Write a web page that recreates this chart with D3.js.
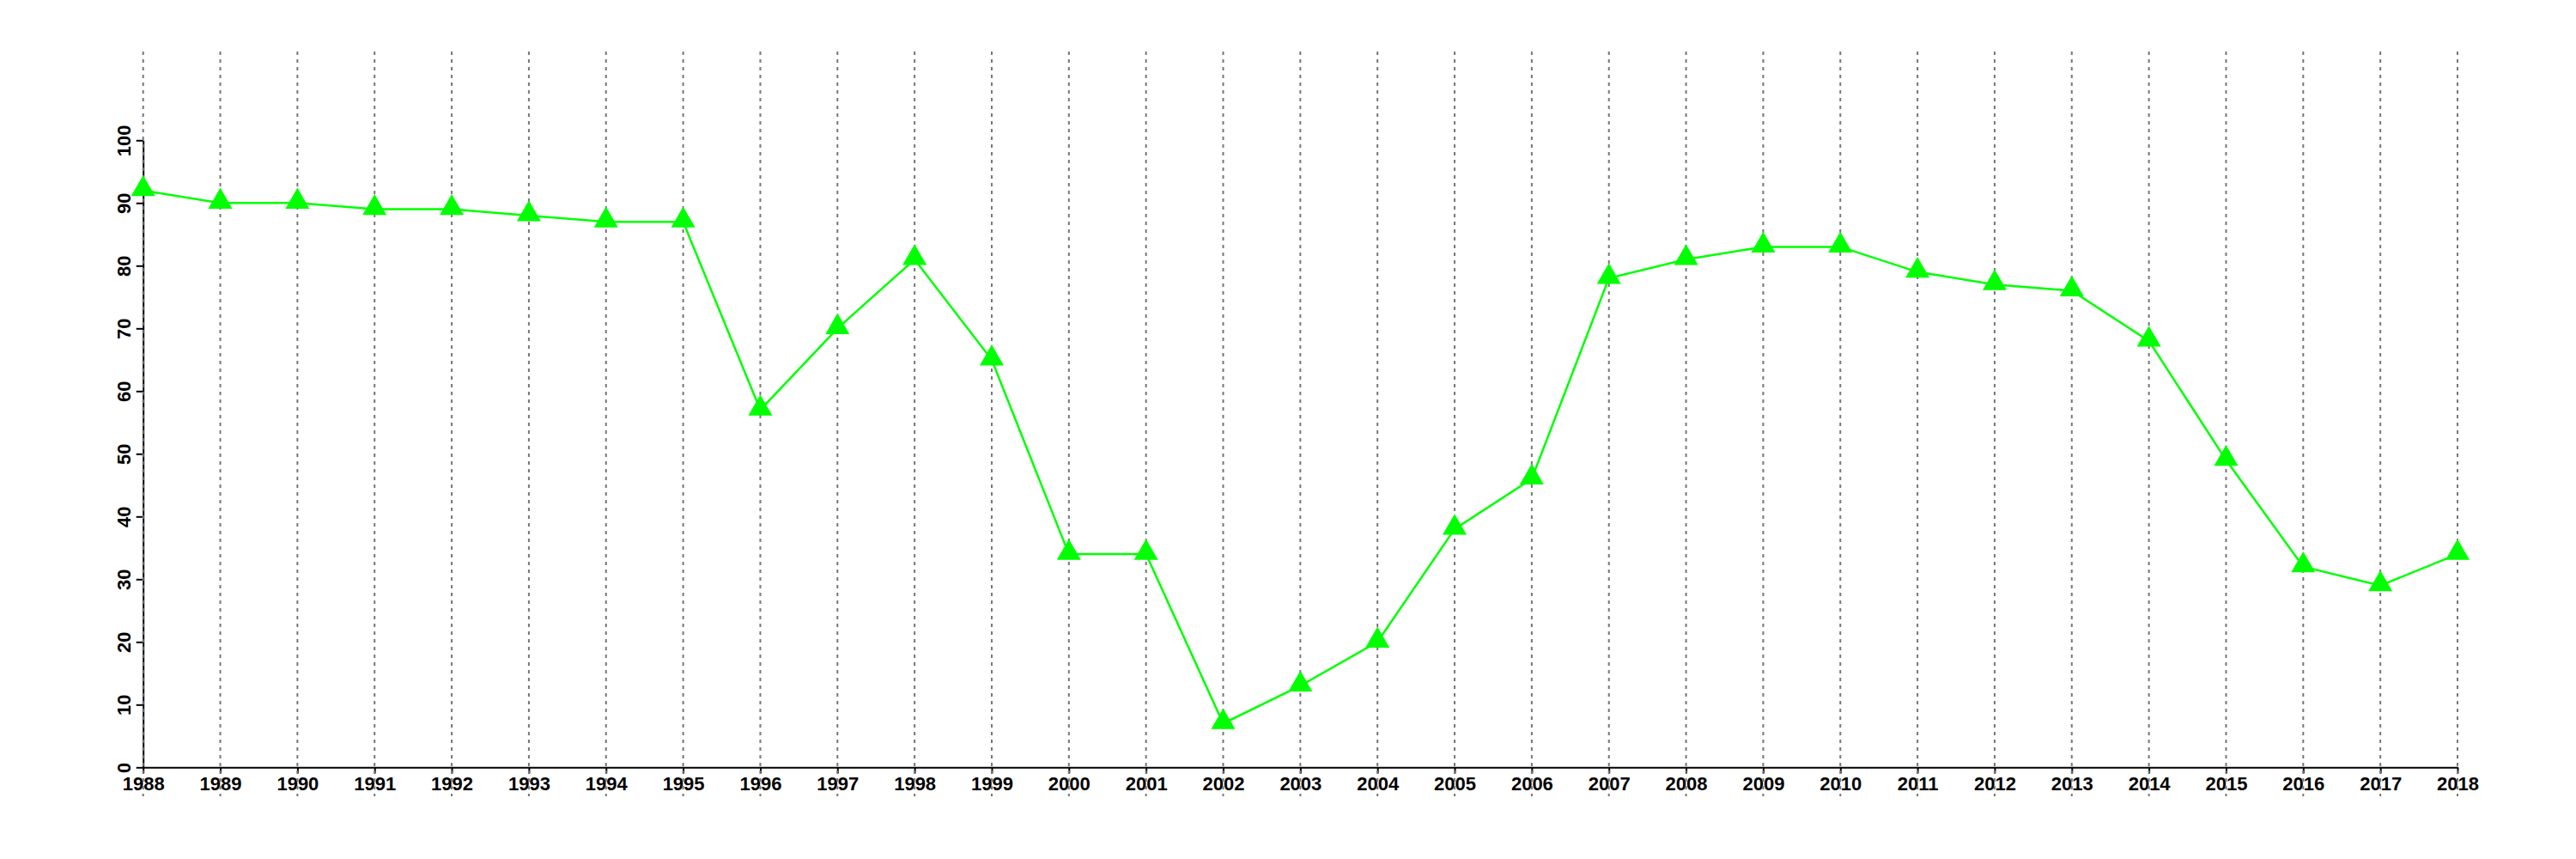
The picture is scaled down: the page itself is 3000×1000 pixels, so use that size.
<!DOCTYPE html>
<html>
<head>
<meta charset="utf-8">
<script src="https://cdn.jsdelivr.net/npm/d3@7"></script>
<style>
  html, body { margin: 0; padding: 0; background: #fff; }
  svg { display: block; }
</style>
</head>
<body>
<svg id="chart" width="3000" height="1000"></svg>
<script>
const years = [1988,1989,1990,1991,1992,1993,1994,1995,1996,1997,1998,1999,2000,2001,2002,2003,2004,2005,2006,2007,2008,2009,2010,2011,2012,2013,2014,2015,2016,2017,2018];
const values = [92,90,90,89,89,88,87,87,57,70,81,65,34,34,7,13,20,38,46,78,81,83,83,79,77,76,68,49,32,29,34];
const yTicks = [0,10,20,30,40,50,60,70,80,90,100];

const svg = d3.select("#chart");
const x = d3.scaleLinear().domain([1988, 2018]).range([166.7, 2862]);
const y = d3.scaleLinear().domain([0, 100]).range([893.3, 163.3]);
const font = "'Liberation Sans', Arial, Helvetica, sans-serif";

// x axis
const xAxis = svg.append("g").attr("transform", `translate(0,${y(0)})`)
  .call(d3.axisBottom(x).tickValues(years).tickFormat(d3.format("d")).tickSize(7).tickPadding(3).tickSizeOuter(0));
xAxis.select(".domain").attr("stroke", "#000").attr("stroke-width", 2);
xAxis.selectAll(".tick line").attr("stroke", "#000").attr("stroke-width", 2);
xAxis.selectAll(".tick text").attr("font-family", font).attr("font-size", 22).attr("font-weight", "bold")
  .attr("fill", "#000").attr("y", 27).attr("dy", 0);

// y axis
const yAxis = svg.append("g").attr("transform", `translate(${x(1988)},0)`)
  .call(d3.axisLeft(y).tickValues(yTicks).tickFormat(d3.format("d")).tickSize(8).tickSizeOuter(0));
yAxis.select(".domain").attr("stroke", "#000").attr("stroke-width", 2);
yAxis.selectAll(".tick line").attr("stroke", "#000").attr("stroke-width", 2);
yAxis.selectAll(".tick text").attr("font-family", font).attr("font-size", 22).attr("font-weight", "bold")
  .attr("fill", "#000").attr("text-anchor", "middle").attr("x", null).attr("dy", 0)
  .attr("transform", "translate(-14.5,0) rotate(-90)");

// vertical dotted gridlines
svg.append("g").selectAll("line").data(years).join("line")
  .attr("x1", d => x(d)).attr("x2", d => x(d))
  .attr("y1", 60).attr("y2", 927)
  .attr("stroke", "#777777").attr("stroke-width", 2).attr("stroke-dasharray", "4,5");

// series line
const pts = years.map((yr, i) => [yr, values[i]]);
svg.append("path").datum(pts)
  .attr("fill", "none").attr("stroke", "#00ff00").attr("stroke-width", 2.5)
  .attr("d", d3.line().x(d => x(d[0])).y(d => y(d[1])));

// triangle markers
const tri = d3.symbol().type(d3.symbolTriangle).size(340);
svg.append("g").selectAll("path").data(pts).join("path")
  .attr("transform", d => `translate(${x(d[0])},${y(d[1]) - 1.5})`)
  .attr("d", tri).attr("fill", "#00ff00");
</script>
</body>
</html>
